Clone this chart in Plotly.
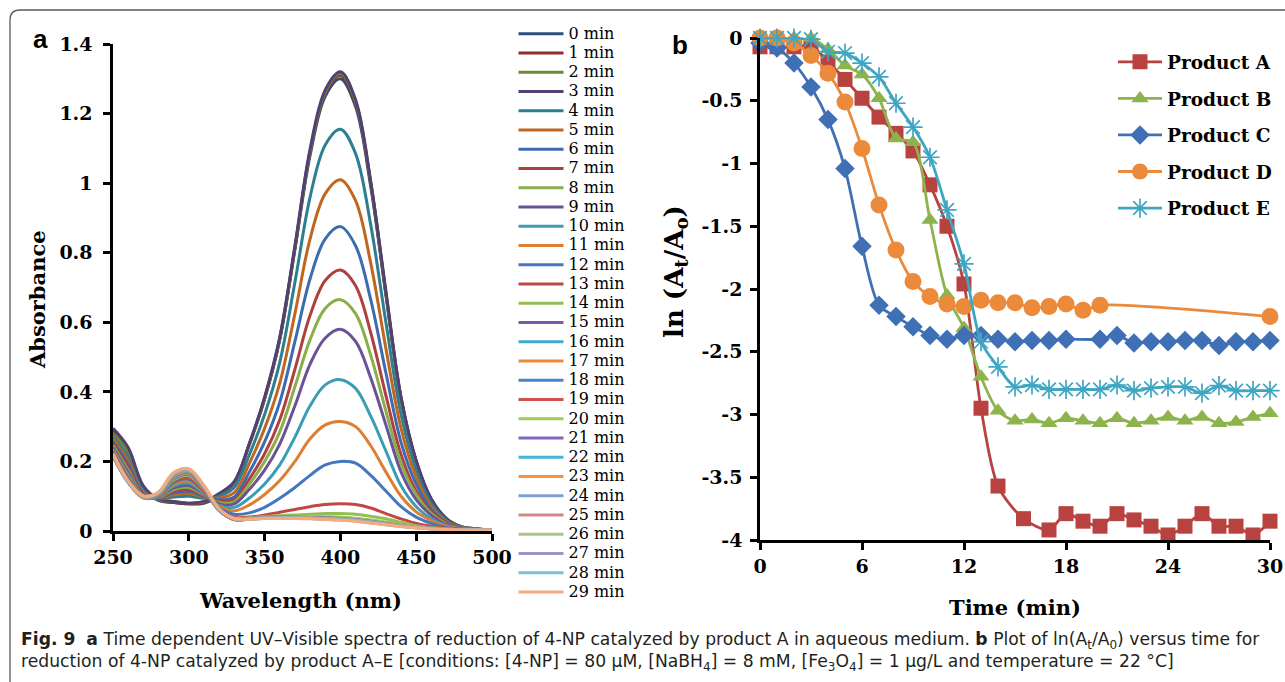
import plotly.graph_objects as go

# ---------------- Panel a data ----------------
WAVELENGTH = [250, 260, 270, 280, 290, 300, 310, 320, 330, 340, 350, 360, 370,
              380, 390, 400, 410, 420, 430, 440, 450, 460, 470, 480, 490, 500]
X_TICKS_A = [250, 300, 350, 400, 450, 500]
Y_TICKS_A = [0, 0.2, 0.4, 0.6, 0.8, 1, 1.2, 1.4]

TIME_LABELS = ["0 min", "1 min", "2 min", "3 min", "4 min", "5 min", "6 min", "7 min",
               "8 min", "9 min", "10 min", "11 min", "12 min", "13 min", "14 min",
               "15 min", "16 min", "17 min", "18 min", "19 min", "20 min", "21 min",
               "22 min", "23 min", "24 min", "25 min", "26 min", "27 min", "28 min",
               "29 min"]

A00 = [0.280, 0.228, 0.122, 0.088, 0.082, 0.078, 0.080, 0.100, 0.140, 0.250, 0.380, 0.550, 0.810, 1.080, 1.250, 1.300, 1.220, 0.990, 0.680, 0.380, 0.200, 0.090, 0.035, 0.012, 0.006, 0.003]
A01 = [0.290, 0.235, 0.125, 0.090, 0.082, 0.078, 0.082, 0.104, 0.140, 0.250, 0.380, 0.552, 0.812, 1.088, 1.258, 1.310, 1.230, 1.000, 0.682, 0.380, 0.200, 0.090, 0.035, 0.012, 0.006, 0.003]
A02 = [0.280, 0.230, 0.122, 0.090, 0.085, 0.080, 0.084, 0.105, 0.141, 0.251, 0.382, 0.555, 0.815, 1.092, 1.262, 1.315, 1.235, 1.002, 0.685, 0.382, 0.200, 0.090, 0.035, 0.012, 0.006, 0.003]
A03 = [0.295, 0.240, 0.130, 0.092, 0.085, 0.080, 0.085, 0.108, 0.142, 0.252, 0.385, 0.557, 0.820, 1.098, 1.268, 1.320, 1.240, 1.005, 0.690, 0.385, 0.202, 0.092, 0.035, 0.012, 0.006, 0.003]
A04 = [0.270, 0.212, 0.115, 0.094, 0.098, 0.100, 0.094, 0.100, 0.125, 0.220, 0.335, 0.485, 0.715, 0.960, 1.110, 1.155, 1.085, 0.880, 0.600, 0.335, 0.175, 0.080, 0.030, 0.010, 0.005, 0.003]
A05 = [0.265, 0.202, 0.110, 0.095, 0.104, 0.108, 0.098, 0.095, 0.110, 0.195, 0.295, 0.425, 0.625, 0.840, 0.970, 1.010, 0.950, 0.770, 0.525, 0.295, 0.155, 0.070, 0.027, 0.010, 0.005, 0.003]
A06 = [0.258, 0.192, 0.106, 0.095, 0.110, 0.114, 0.100, 0.090, 0.098, 0.170, 0.256, 0.370, 0.545, 0.725, 0.840, 0.875, 0.820, 0.665, 0.455, 0.255, 0.135, 0.062, 0.024, 0.009, 0.005, 0.003]
A07 = [0.252, 0.184, 0.102, 0.095, 0.114, 0.120, 0.102, 0.086, 0.090, 0.150, 0.222, 0.320, 0.465, 0.620, 0.720, 0.750, 0.705, 0.570, 0.390, 0.220, 0.115, 0.055, 0.022, 0.008, 0.005, 0.003]
A08 = [0.246, 0.175, 0.100, 0.096, 0.119, 0.125, 0.104, 0.082, 0.084, 0.135, 0.200, 0.285, 0.415, 0.550, 0.640, 0.665, 0.625, 0.505, 0.345, 0.195, 0.105, 0.050, 0.020, 0.008, 0.005, 0.003]
A09 = [0.240, 0.168, 0.099, 0.097, 0.124, 0.131, 0.106, 0.078, 0.078, 0.120, 0.175, 0.250, 0.360, 0.480, 0.555, 0.580, 0.545, 0.440, 0.305, 0.170, 0.090, 0.045, 0.018, 0.008, 0.005, 0.003]
A10 = [0.236, 0.162, 0.098, 0.098, 0.129, 0.137, 0.108, 0.074, 0.068, 0.095, 0.135, 0.190, 0.270, 0.360, 0.420, 0.435, 0.410, 0.330, 0.230, 0.130, 0.070, 0.035, 0.015, 0.007, 0.004, 0.003]
A11 = [0.232, 0.157, 0.097, 0.099, 0.134, 0.143, 0.110, 0.070, 0.058, 0.075, 0.105, 0.145, 0.200, 0.265, 0.305, 0.315, 0.300, 0.245, 0.170, 0.100, 0.055, 0.030, 0.013, 0.006, 0.004, 0.003]
A12 = [0.228, 0.152, 0.096, 0.100, 0.139, 0.149, 0.113, 0.066, 0.048, 0.052, 0.068, 0.094, 0.125, 0.160, 0.190, 0.200, 0.195, 0.160, 0.115, 0.070, 0.040, 0.022, 0.010, 0.005, 0.004, 0.003]
A13 = [0.224, 0.148, 0.096, 0.101, 0.143, 0.154, 0.116, 0.062, 0.040, 0.040, 0.046, 0.054, 0.062, 0.070, 0.076, 0.078, 0.076, 0.066, 0.050, 0.035, 0.022, 0.014, 0.008, 0.005, 0.004, 0.003]
A14 = [0.220, 0.145, 0.096, 0.102, 0.147, 0.159, 0.119, 0.060, 0.036, 0.038, 0.042, 0.044, 0.046, 0.048, 0.050, 0.050, 0.048, 0.042, 0.035, 0.025, 0.015, 0.010, 0.006, 0.004, 0.003, 0.002]
A15 = [0.218, 0.143, 0.096, 0.103, 0.150, 0.162, 0.121, 0.059, 0.034, 0.036, 0.040, 0.041, 0.041, 0.040, 0.039, 0.037, 0.034, 0.030, 0.024, 0.018, 0.012, 0.008, 0.005, 0.004, 0.003, 0.002]
A16 = [0.217, 0.142, 0.096, 0.104, 0.152, 0.164, 0.122, 0.059, 0.033, 0.035, 0.039, 0.040, 0.040, 0.039, 0.038, 0.036, 0.033, 0.029, 0.023, 0.017, 0.011, 0.008, 0.005, 0.004, 0.003, 0.002]
A17 = [0.216, 0.141, 0.096, 0.105, 0.154, 0.166, 0.123, 0.059, 0.033, 0.035, 0.039, 0.040, 0.040, 0.039, 0.038, 0.036, 0.033, 0.028, 0.022, 0.016, 0.011, 0.007, 0.005, 0.004, 0.003, 0.002]
A18 = [0.216, 0.141, 0.097, 0.106, 0.156, 0.168, 0.124, 0.060, 0.033, 0.035, 0.040, 0.041, 0.041, 0.040, 0.039, 0.037, 0.034, 0.029, 0.023, 0.017, 0.011, 0.008, 0.005, 0.004, 0.003, 0.002]
A19 = [0.215, 0.140, 0.097, 0.107, 0.158, 0.169, 0.125, 0.060, 0.033, 0.034, 0.039, 0.040, 0.040, 0.039, 0.038, 0.036, 0.033, 0.028, 0.022, 0.016, 0.011, 0.007, 0.005, 0.004, 0.003, 0.002]
A20 = [0.216, 0.140, 0.097, 0.107, 0.159, 0.170, 0.126, 0.061, 0.034, 0.035, 0.040, 0.041, 0.042, 0.042, 0.041, 0.040, 0.037, 0.032, 0.026, 0.019, 0.013, 0.008, 0.005, 0.004, 0.003, 0.002]
A21 = [0.215, 0.140, 0.098, 0.108, 0.160, 0.171, 0.126, 0.061, 0.034, 0.034, 0.039, 0.040, 0.040, 0.039, 0.038, 0.036, 0.033, 0.028, 0.022, 0.016, 0.011, 0.007, 0.005, 0.004, 0.003, 0.002]
A22 = [0.216, 0.140, 0.098, 0.108, 0.161, 0.172, 0.127, 0.061, 0.034, 0.034, 0.038, 0.039, 0.039, 0.038, 0.037, 0.035, 0.032, 0.027, 0.021, 0.015, 0.010, 0.007, 0.005, 0.004, 0.003, 0.002]
A23 = [0.217, 0.141, 0.098, 0.109, 0.162, 0.173, 0.127, 0.062, 0.034, 0.034, 0.038, 0.039, 0.039, 0.038, 0.036, 0.034, 0.031, 0.026, 0.021, 0.015, 0.010, 0.007, 0.005, 0.004, 0.003, 0.002]
A24 = [0.218, 0.141, 0.099, 0.109, 0.163, 0.174, 0.128, 0.062, 0.035, 0.034, 0.038, 0.038, 0.038, 0.037, 0.036, 0.034, 0.031, 0.026, 0.020, 0.015, 0.010, 0.007, 0.005, 0.004, 0.003, 0.002]
A25 = [0.219, 0.142, 0.099, 0.110, 0.164, 0.175, 0.128, 0.062, 0.035, 0.034, 0.037, 0.038, 0.038, 0.037, 0.035, 0.033, 0.030, 0.025, 0.020, 0.014, 0.010, 0.007, 0.005, 0.004, 0.003, 0.002]
A26 = [0.220, 0.142, 0.100, 0.110, 0.165, 0.176, 0.129, 0.063, 0.035, 0.034, 0.037, 0.038, 0.038, 0.037, 0.035, 0.033, 0.030, 0.025, 0.019, 0.014, 0.009, 0.006, 0.004, 0.003, 0.003, 0.002]
A27 = [0.221, 0.143, 0.100, 0.111, 0.166, 0.177, 0.129, 0.063, 0.035, 0.034, 0.037, 0.037, 0.037, 0.036, 0.034, 0.032, 0.029, 0.024, 0.019, 0.014, 0.009, 0.006, 0.004, 0.003, 0.003, 0.002]
A28 = [0.222, 0.143, 0.100, 0.111, 0.167, 0.178, 0.130, 0.063, 0.036, 0.034, 0.036, 0.037, 0.037, 0.036, 0.034, 0.032, 0.029, 0.024, 0.018, 0.013, 0.009, 0.006, 0.004, 0.003, 0.003, 0.002]
A29 = [0.223, 0.144, 0.101, 0.112, 0.168, 0.179, 0.130, 0.064, 0.036, 0.034, 0.036, 0.036, 0.036, 0.035, 0.033, 0.031, 0.028, 0.023, 0.018, 0.013, 0.009, 0.006, 0.004, 0.003, 0.002, 0.002]

SPECTRA = [A00, A01, A02, A03, A04, A05, A06, A07, A08, A09, A10, A11, A12, A13, A14,
           A15, A16, A17, A18, A19, A20, A21, A22, A23, A24, A25, A26, A27, A28, A29]

SPECTRA_COLORS = ["#2C4F80", "#8E2D2B", "#6A8A33", "#523F73", "#2B7F91", "#C0661F",
                  "#3B6BB0", "#B0403E", "#89AE4A", "#6B5294", "#3A9DB5", "#DD7E33",
                  "#4477C0", "#C04744", "#93BE50", "#7A5BA8", "#40AACA", "#EE8A38",
                  "#4A84CF", "#D0524E", "#9ECB5A", "#8466B8", "#47B5D6", "#FA913D",
                  "#7FA0D2", "#D38584", "#A9C983", "#A294C2", "#7EBFD4", "#F7AA7C"]

# ---------------- Panel b data ----------------
T_A = [0, 1, 2, 3, 4, 5, 6, 7, 8, 9, 10, 11, 12, 13, 14, 15.5, 17, 18, 19, 20, 21, 22,
       23, 24, 25, 26, 27, 28, 29, 30]
LN_A = [-0.07, -0.07, -0.07, -0.06, -0.19, -0.33, -0.48, -0.63, -0.76, -0.90, -1.17,
        -1.50, -1.96, -2.95, -3.57, -3.83, -3.92, -3.79, -3.85, -3.89, -3.79, -3.84,
        -3.89, -3.96, -3.89, -3.79, -3.89, -3.89, -3.96, -3.85]

T_B = [0, 1, 2, 3, 4, 5, 6, 7, 8, 9, 10, 11, 12, 13, 14, 15, 16, 17, 18, 19, 20, 21,
       22, 23, 24, 25, 26, 27, 28, 29, 30]
LN_B = [0.0, 0.0, 0.0, 0.0, -0.09, -0.22, -0.29, -0.48, -0.80, -0.83, -1.45, -2.05,
        -2.31, -2.70, -2.97, -3.05, -3.04, -3.07, -3.03, -3.05, -3.07, -3.03, -3.07,
        -3.05, -3.02, -3.05, -3.02, -3.07, -3.06, -3.02, -2.99]

T_C = [0, 1, 2, 3, 4, 5, 6, 7, 8, 9, 10, 11, 12, 13, 14, 15, 16, 17, 18, 20, 21, 22,
       23, 24, 25, 26, 27, 28, 29, 30]
LN_C = [-0.04, -0.08, -0.20, -0.39, -0.65, -1.04, -1.66, -2.13, -2.22, -2.30, -2.37,
        -2.40, -2.37, -2.37, -2.40, -2.42, -2.41, -2.41, -2.40, -2.40, -2.37, -2.43,
        -2.42, -2.42, -2.41, -2.41, -2.45, -2.42, -2.42, -2.41]

T_D = [0, 1, 2, 3, 4, 5, 6, 7, 8, 9, 10, 11, 12, 13, 14, 15, 16, 17, 18, 19, 20, 30]
LN_D = [0.0, 0.0, -0.04, -0.14, -0.28, -0.51, -0.88, -1.33, -1.69, -1.94, -2.06, -2.12,
        -2.14, -2.09, -2.11, -2.11, -2.15, -2.14, -2.12, -2.17, -2.13, -2.22]

T_E = [0, 1, 2, 3, 4, 5, 6, 7, 8, 9, 10, 11, 12, 13, 14, 15, 16, 17, 18, 19, 20, 21,
       22, 23, 24, 25, 26, 27, 28, 29, 30]
LN_E = [0.0, 0.0, 0.0, -0.01, -0.11, -0.12, -0.20, -0.31, -0.52, -0.71, -0.95, -1.37,
        -1.80, -2.42, -2.62, -2.78, -2.765, -2.80, -2.80, -2.80, -2.80, -2.765, -2.81,
        -2.79, -2.78, -2.78, -2.83, -2.77, -2.81, -2.81, -2.81]

PRODUCT_NAMES = ["Product A", "Product B", "Product C", "Product D", "Product E"]
PRODUCT_COLORS = ["#B8423F", "#8DB44C", "#3F70B5", "#EB8A3A", "#3EA6C2"]
PRODUCT_SYMBOLS = ["square", "triangle-up", "diamond", "circle", "asterisk-open"]
PRODUCT_SIZES = [15, 15, 15, 17, 16]

X_TICKS_B = [0, 6, 12, 18, 24, 30]
Y_TICKS_B = [-4, -3.5, -3, -2.5, -2, -1.5, -1, -0.5, 0]
Y_TICKTEXT_B = ["-4", "-3.5", "-3", "-2.5", "-2", "-1.5", "-1", "-0.5", "0"]

# ---------------- Figure ----------------
W, H = 1285, 682
SERIF = "DejaVu Serif"


def px(x):
    return x / W


def py(y):
    return 1 - y / H


fig = go.Figure()

for lab, ys, col in zip(TIME_LABELS, SPECTRA, SPECTRA_COLORS):
    fig.add_trace(go.Scatter(
        x=WAVELENGTH, y=ys, mode="lines",
        line=dict(color=col, width=3, shape="spline", smoothing=1),
        name='<span style="font-size:16px">' + lab + '</span>',
        legend="legend", xaxis="x", yaxis="y", hoverinfo="skip"))

b_series = [(T_A, LN_A), (T_B, LN_B), (T_C, LN_C), (T_D, LN_D), (T_E, LN_E)]
for (tx, ty), name, col, sym, sz in zip(b_series, PRODUCT_NAMES, PRODUCT_COLORS,
                                        PRODUCT_SYMBOLS, PRODUCT_SIZES):
    marker = dict(symbol=sym, size=sz, color=col)
    if sym == "asterisk-open":
        marker["line"] = dict(color=col, width=1.7)
    fig.add_trace(go.Scatter(
        x=tx, y=ty, mode="lines+markers",
        line=dict(color=col, width=2.8, shape="spline", smoothing=0.8),
        marker=marker, name=name, legend="legend2", legendgroup=name,
        xaxis="x2", yaxis="y2", cliponaxis=False))

tickfont = dict(family=SERIF, size=19, color="black", weight="bold")
axis_common = dict(showline=True, linecolor="black", linewidth=2.5, ticks="outside",
                   ticklen=7, tickwidth=2.5, tickcolor="black", showgrid=False,
                   zeroline=False, tickfont=tickfont, automargin=False)

fig.update_layout(
    width=W, height=H, margin=dict(l=0, r=0, t=0, b=0, autoexpand=False),
    paper_bgcolor="white", plot_bgcolor="white", showlegend=True,
    xaxis=dict(domain=[px(113), px(492)], range=[250, 500], tickvals=X_TICKS_A,
               anchor="y", ticklabelstandoff=0, **axis_common),
    yaxis=dict(domain=[py(531), py(44)], range=[0, 1.4], tickvals=Y_TICKS_A,
               anchor="x", ticklabelstandoff=7, **axis_common),
    xaxis2=dict(domain=[px(760), px(1270)], range=[0, 30], tickvals=X_TICKS_B,
                anchor="y2", ticklabelstandoff=0, **axis_common),
    yaxis2=dict(domain=[py(540), py(38)], range=[-4, 0], tickvals=Y_TICKS_B,
                ticktext=Y_TICKTEXT_B, anchor="x2", ticklabelstandoff=4, **axis_common),
    legend=dict(x=px(513.5), y=py(19), xanchor="left", yanchor="top",
                font=dict(family=SERIF, size=12.5, color="black"),
                bgcolor="rgba(0,0,0,0)", itemwidth=45, tracegroupgap=0),
    legend2=dict(x=px(1113), y=py(43.3), xanchor="left", yanchor="top",
                 font=dict(family=SERIF, size=18.5, color="black", weight="bold"),
                 bgcolor="rgba(0,0,0,0)", itemwidth=44, tracegroupgap=9.5),
)

annos = [
    dict(text="a", x=px(40), y=py(39), font=dict(family="Liberation Sans", size=26,
                                                  color="black", weight="bold")),
    dict(text="b", x=px(680), y=py(45), font=dict(family="Liberation Sans", size=26,
                                                   color="black", weight="bold")),
    dict(text="Absorbance", x=px(37), y=py(300), textangle=-90,
         font=dict(family=SERIF, size=21, color="black", weight="bold")),
    dict(text="Wavelength (nm)", x=px(300), y=py(600),
         font=dict(family=SERIF, size=21, color="black", weight="bold")),
    dict(text="Time (min)", x=px(1015), y=py(607),
         font=dict(family=SERIF, size=21, color="black", weight="bold")),
    dict(text="ln (A<sub>t</sub>/A<sub>o</sub>)", x=px(675), y=py(272), textangle=-90,
         font=dict(family=SERIF, size=26, color="black", weight="bold")),
    dict(text=("<b>Fig.\u00a09</b>\u00a0\u00a0<b>a</b> Time dependent UV\u2013Visible spectra of "
               "reduction of 4-NP catalyzed by product A in aqueous medium. <b>b</b> Plot of "
               "ln(A<sub>t</sub>/A<sub>0</sub>) versus time for<br>reduction of 4-NP catalyzed "
               "by product A\u2013E [conditions: [4-NP] = 80 \u03bcM, [NaBH<sub>4</sub>] = 8 mM, "
               "[Fe<sub>3</sub>O<sub>4</sub>] = 1 \u03bcg/L and temperature = 22 \u00b0C]"),
         x=px(19), y=py(651.5), xanchor="left", align="left",
         font=dict(family="DejaVu Sans", size=17.2, color="#231f20")),
]
for a in annos:
    a.setdefault("xanchor", "center")
    a.update(xref="paper", yref="paper", showarrow=False, yanchor="middle")
    fig.add_annotation(**a)

# Rounded frame around the figure
fig.add_shape(type="path", xref="paper", yref="paper",
              path=(f"M {px(10)},-0.05 L {px(10)},{py(20)} Q {px(10)},{py(10)} "
                    f"{px(20)},{py(10)} L 1.05,{py(10)}"),
              line=dict(color="#5a5a5a", width=1.3), layer="below")

fig.write_html("out.html")
